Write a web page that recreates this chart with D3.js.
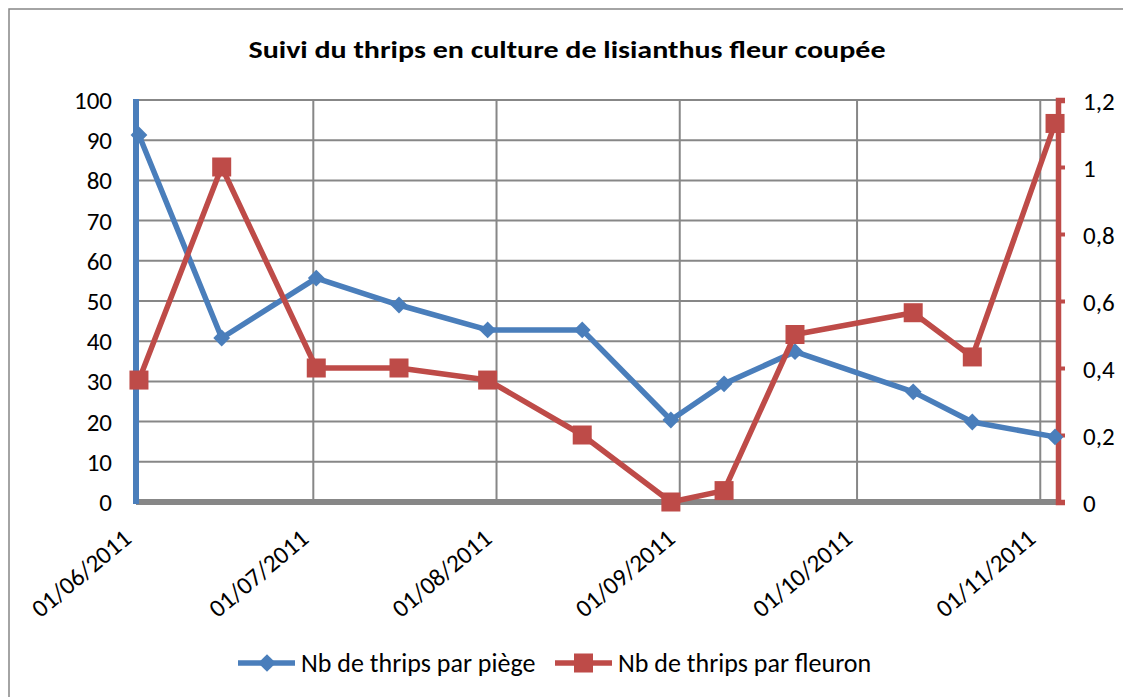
<!DOCTYPE html>
<html>
<head>
  <meta charset="utf-8">
  <script src="https://d3js.org/d3.v7.min.js"></script>
  <style>
    body { margin: 0; background: #fff; }
    svg text { font-family: Carlito, "Liberation Sans Narrow", "Open Sans", sans-serif; fill: #000; }
    .grid line { stroke: #878787; stroke-width: 2px; }
  </style>
</head>
<body>
  <svg id="chart" width="1123" height="697"></svg>
  <script>
    // Données
    const dates = ["2011-06-01", "2011-06-15", "2011-07-01", "2011-07-15", "2011-07-30", "2011-08-15",
                   "2011-08-30", "2011-09-08", "2011-09-20", "2011-10-10", "2011-10-20", "2011-11-03"];
    const parPiege = [91.3, 40.8, 55.7, 49, 42.8, 42.8, 20.4, 29.4, 37.4, 27.4, 19.9, 16.2];
    const parFleuron = [0.364, 1.0, 0.4, 0.4, 0.364, 0.2, 0, 0.034, 0.5, 0.565, 0.433, 1.13];
    const leftTicks = [0, 10, 20, 30, 40, 50, 60, 70, 80, 90, 100];
    const rightTicks = [0, 0.2, 0.4, 0.6, 0.8, 1, 1.2];
    const monthTicks = ["2011-06-01", "2011-07-01", "2011-08-01", "2011-09-01", "2011-10-01", "2011-11-01"];

    const blue = "#4a7ebb", red = "#be4b48";
    const parse = d3.timeParse("%Y-%m-%d");
    const fmt = d3.timeFormat("%d/%m/%Y");

    const svg = d3.select("#chart");
    const mLeft = 136, mRight = 1058, mTop = 100, mBottom = 502;

    // cadre du graphique
    svg.append("rect").attr("x", 9).attr("y", 9).attr("width", 1130).attr("height", 700)
      .attr("fill", "none").attr("stroke", "#878787").attr("stroke-width", 1.5);

    const x = d3.scaleTime()
      .domain([parse("2011-06-01"), parse("2011-11-04")])
      .range([mLeft, mRight]);
    const y1 = d3.scaleLinear().domain([0, 100]).range([mBottom, mTop]);
    const y2 = d3.scaleLinear().domain([0, 1.2]).range([mBottom, mTop]);

    // Excel place les points au milieu du jour
    const xd = d => x(d3.timeHour.offset(parse(d), 12));

    // quadrillage
    const grid = svg.append("g").attr("class", "grid");
    grid.selectAll(".h").data(leftTicks.slice(1)).join("line").attr("class", "h")
      .attr("x1", mLeft).attr("x2", mRight)
      .attr("y1", d => y1(d)).attr("y2", d => y1(d));
    grid.selectAll(".v").data(monthTicks.slice(1)).join("line").attr("class", "v")
      .attr("x1", d => x(parse(d))).attr("x2", d => x(parse(d)))
      .attr("y1", mTop).attr("y2", mBottom);

    // axe horizontal
    svg.append("line").attr("x1", mLeft).attr("x2", mRight).attr("y1", mBottom).attr("y2", mBottom)
      .attr("stroke", "#878787").attr("stroke-width", 6);

    // axe gauche
    svg.append("line").attr("x1", mLeft).attr("x2", mLeft).attr("y1", mTop - 1).attr("y2", mBottom + 2)
      .attr("stroke", blue).attr("stroke-width", 6);
    svg.append("g").selectAll("text").data(leftTicks).join("text")
      .attr("x", 112).attr("y", d => y1(d)).attr("dy", "0.36em")
      .attr("text-anchor", "end").attr("font-size", 25)
      .text(d => d);

    // axe droit
    const rAxis = svg.append("g").attr("transform", `translate(${mRight},0)`)
      .call(d3.axisRight(y2).tickValues(rightTicks).tickSize(7).tickPadding(18)
        .tickFormat(d => String(d).replace(".", ",")));
    rAxis.select(".domain").attr("stroke", red).attr("stroke-width", 5.5);
    rAxis.selectAll(".tick line").attr("stroke", red).attr("stroke-width", 4);
    rAxis.selectAll(".tick text").attr("font-size", 25).attr("fill", "#000").attr("dy", "0.36em")
      .attr("font-family", "Carlito, 'Liberation Sans Narrow', 'Open Sans', sans-serif");

    // étiquettes de dates
    svg.append("g").selectAll("text").data(monthTicks).join("text")
      .attr("transform", d => `translate(${x(parse(d)) - 3},541) rotate(-40)`)
      .attr("text-anchor", "end").attr("font-size", 25)
      .text(d => fmt(parse(d)));

    // séries
    const line1 = d3.line().x((d, i) => xd(dates[i])).y(d => y1(d));
    const line2 = d3.line().x((d, i) => xd(dates[i])).y(d => y2(d));

    svg.append("path").datum(parPiege).attr("d", line1)
      .attr("fill", "none").attr("stroke", blue).attr("stroke-width", 5.5).attr("stroke-linejoin", "round");
    svg.append("g").selectAll("path").data(parPiege).join("path")
      .attr("d", d3.symbol(d3.symbolDiamond2, 180)())
      .attr("transform", (d, i) => `translate(${xd(dates[i])},${y1(d)})`)
      .attr("fill", blue);

    svg.append("path").datum(parFleuron).attr("d", line2)
      .attr("fill", "none").attr("stroke", red).attr("stroke-width", 5.5).attr("stroke-linejoin", "round");
    svg.append("g").selectAll("rect").data(parFleuron).join("rect")
      .attr("x", (d, i) => xd(dates[i]) - 9.5).attr("y", d => y2(d) - 9.5)
      .attr("width", 19).attr("height", 19).attr("fill", red);

    // titre
    svg.append("text").attr("x", 567).attr("y", 58)
      .attr("text-anchor", "middle").attr("font-size", 24).attr("font-weight", "bold")
      .attr("textLength", 637).attr("lengthAdjust", "spacingAndGlyphs")
      .text("Suivi du thrips en culture de lisianthus fleur coupée");

    // légende
    const legend = [
      { name: "Nb de thrips par piège", color: blue, x: 238, marker: "diamond" },
      { name: "Nb de thrips par fleuron", color: red, x: 555, marker: "square" }
    ];
    const lg = svg.append("g").selectAll("g").data(legend).join("g")
      .attr("transform", d => `translate(${d.x},663)`);
    lg.append("line").attr("x1", 0).attr("x2", 57).attr("stroke", d => d.color).attr("stroke-width", 5.5);
    lg.filter(d => d.marker === "diamond").append("path")
      .attr("d", d3.symbol(d3.symbolDiamond2, 200)())
      .attr("transform", "translate(29,0)").attr("fill", d => d.color);
    lg.filter(d => d.marker === "square").append("rect")
      .attr("x", 19).attr("y", -9.5).attr("width", 19).attr("height", 19).attr("fill", d => d.color);
    lg.append("text").attr("x", 63).attr("dy", "0.36em").attr("font-size", 26).text(d => d.name);
  </script>
</body>
</html>
